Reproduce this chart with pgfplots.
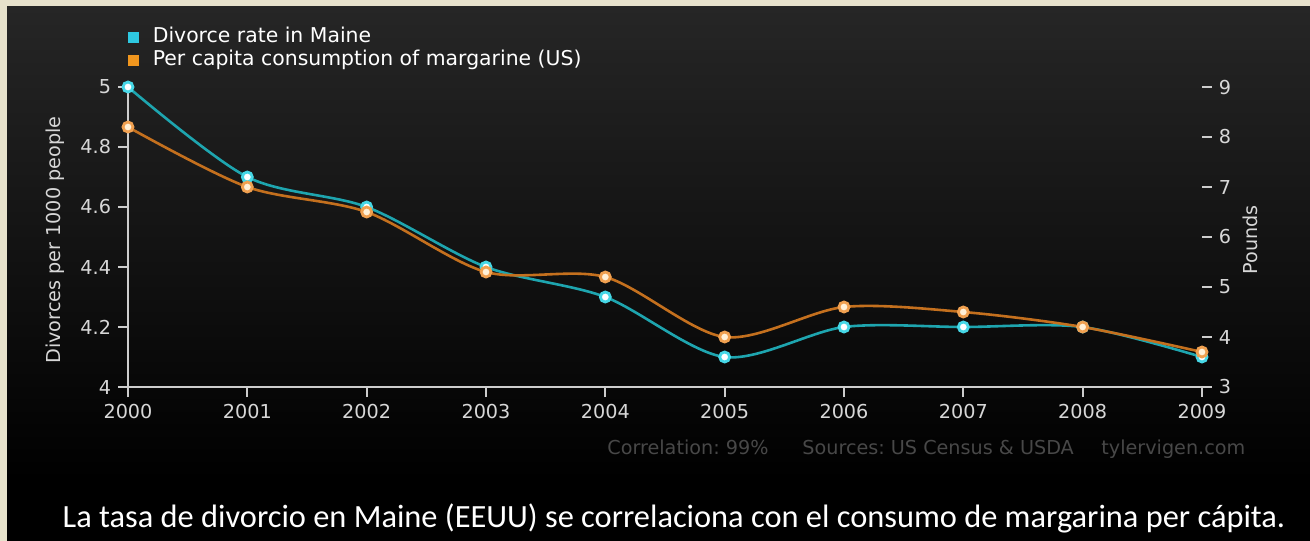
\documentclass[border=0pt]{standalone}
\usepackage{pgfplots}
\pgfplotsset{compat=1.18}
\usepackage{fontspec}
\setmainfont{DejaVu Sans}
\newfontfamily\capfont{Carlito}
\frenchspacing
\definecolor{beige}{RGB}{231,226,204}
\definecolor{topgray}{RGB}{38,38,38}
\definecolor{axisgray}{RGB}{205,205,205}
\definecolor{ticktext}{RGB}{215,215,215}
\definecolor{cyanline}{RGB}{30,165,175}
\definecolor{cyanmark}{RGB}{70,215,230}
\definecolor{orangeline}{RGB}{196,112,30}
\definecolor{orangemark}{RGB}{240,160,80}
\definecolor{legcyan}{RGB}{46,200,225}
\definecolor{legorange}{RGB}{240,150,30}
\definecolor{footgray}{RGB}{72,72,72}
\newcommand{\chartfont}{\fontsize{9.6bp}{11bp}\selectfont}
\begin{document}
\begin{tikzpicture}
\useasboundingbox (0,0) rectangle (655bp,-270.5bp);
\fill[beige] (0,0) rectangle (655bp,-270.5bp);
\shade[top color=topgray,bottom color=black] (3.5bp,-3bp) rectangle (655bp,-240bp);
\fill[black] (3.5bp,-240bp) rectangle (655bp,-270.5bp);

\begin{axis}[
  at={(64bp,-193.5bp)}, anchor=south west,
  scale only axis, width=537bp, height=150bp,
  xmin=2000, xmax=2009, ymin=4, ymax=5,
  axis x line*=bottom, axis y line*=left,
  axis line style={axisgray, line width=1bp, -},
  xtick={2000,2001,2002,2003,2004,2005,2006,2007,2008,2009},
  ytick={4,4.2,4.4,4.6,4.8,5},
  tick align=outside, major tick length=5bp,
  tick style={axisgray, line width=1bp},
  /pgf/number format/assume math mode=true,
  x tick label style={/pgf/number format/1000 sep={}},
  ticklabel style={font=\chartfont, text=ticktext},
  ylabel={Divorces per 1000 people},
  ylabel style={at={(axis description cs:-0.068,0.49)}, anchor=center, rotate=0, font=\chartfont, text=ticktext},
  clip=false,
  legend style={at={(axis description cs:0,1.2)}, anchor=north west, draw=none, fill=none,
    text=white, font=\fontsize{10.2bp}{12bp}\selectfont, inner sep=0pt,
    nodes={inner sep=0pt, text height=7.5bp, text depth=2.5bp},
    /tikz/column sep=7bp, /tikz/row sep=1.5bp},
  legend cell align=left,
  legend image code/.code={\fill[#1] (0bp,-2.4bp) rectangle (4.8bp,2.4bp);},
]
\addlegendimage{legcyan}
\addlegendentry{Divorce rate in Maine}
\addlegendimage{legorange}
\addlegendentry{Per capita consumption of margarine (US)}
\addplot[cyanline, line width=1.3bp, smooth, mark=*, mark size=2.5bp,
  mark options={fill=white, draw=cyanmark, line width=1.4bp}, forget plot]
  coordinates {(2000,5.0) (2001,4.7) (2002,4.6) (2003,4.4) (2004,4.3)
               (2005,4.1) (2006,4.2) (2007,4.2) (2008,4.2) (2009,4.1)};
\end{axis}

\begin{axis}[
  at={(64bp,-193.5bp)}, anchor=south west,
  scale only axis, width=537bp, height=150bp,
  xmin=2000, xmax=2009, ymin=3, ymax=9,
  hide x axis, axis y line*=right,
  axis line style={draw=none},
  ytick={3,4,5,6,7,8,9},
  tick align=outside, major tick length=5bp,
  tick style={axisgray, line width=1bp},
  /pgf/number format/assume math mode=true,
  ticklabel style={font=\chartfont, text=ticktext},
  ylabel={Pounds},
  ylabel style={at={(axis description cs:1.0447,0.49)}, anchor=center, rotate=0, font=\chartfont, text=ticktext},
  clip=false,
]
\addplot[orangeline, line width=1.3bp, smooth, mark=*, mark size=2.5bp,
  mark options={fill={rgb,255:red,255;green,240;blue,215}, draw=orangemark, line width=1.4bp}]
  coordinates {(2000,8.2) (2001,7.0) (2002,6.5) (2003,5.3) (2004,5.2)
               (2005,4.0) (2006,4.6) (2007,4.5) (2008,4.2) (2009,3.7)};
\end{axis}

\begin{scope}[every node/.style={inner sep=0pt, text=footgray, font=\chartfont, anchor=base west}]
\node at (303.5bp,-227bp) {Correlation: 99\%};
\node at (401bp,-227bp) {Sources: US Census \& USDA};
\node at (550.5bp,-227bp) {tylervigen.com};
\end{scope}
\node[inner sep=0pt, anchor=base, text=white, font=\capfont\fontsize{16.2bp}{19bp}\selectfont]
  at (337bp,-263.5bp) {La tasa de divorcio en Maine (EEUU) se correlaciona con el consumo de margarina per cápita.};
\end{tikzpicture}
\end{document}
